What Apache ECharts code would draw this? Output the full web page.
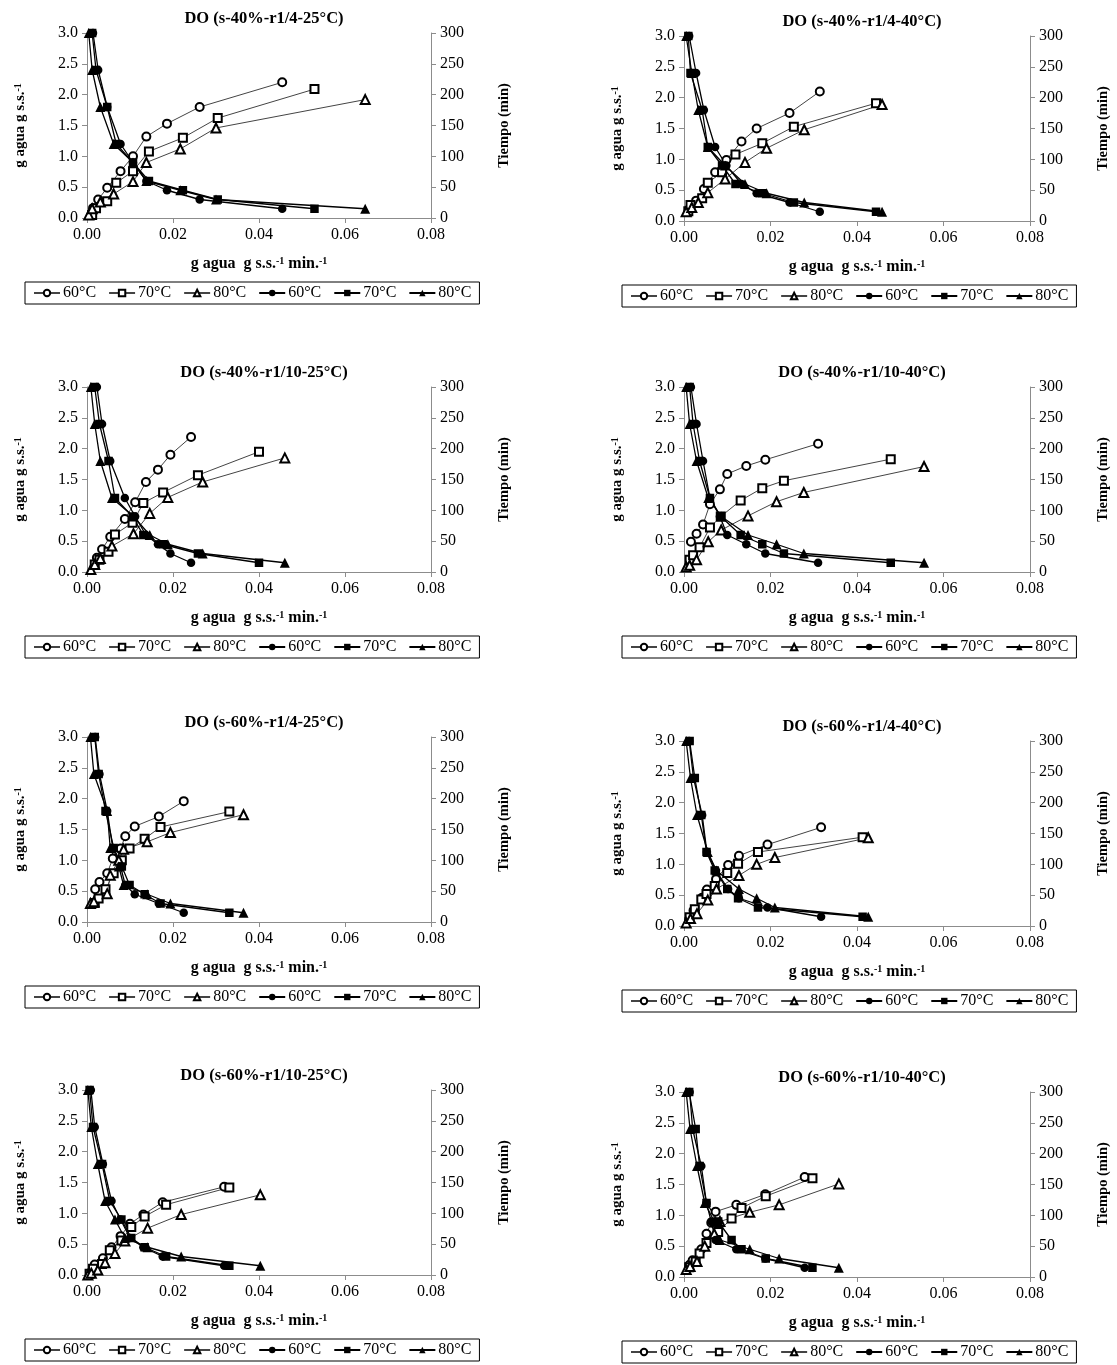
<!DOCTYPE html>
<html>
<head>
<meta charset="utf-8">
<script src="https://cdn.jsdelivr.net/npm/echarts@6/dist/echarts.min.js"></script>
<style>
  html, body { margin: 0; padding: 0; background: #fff; }
  #main { width: 1117px; height: 1365px; }
</style>
</head>
<body>
<div id="main"></div>
<script>
// sampling times (min), same for every run
var times = [300, 240, 180, 120, 90, 60, 45, 30, 15];
var temps = ['60', '70', '80'];

var titles = [
    'DO (s-40%-r1/4-25\u00b0C)', 'DO (s-40%-r1/4-40\u00b0C)',
    'DO (s-40%-r1/10-25\u00b0C)', 'DO (s-40%-r1/10-40\u00b0C)',
    'DO (s-60%-r1/4-25\u00b0C)', 'DO (s-60%-r1/4-40\u00b0C)',
    'DO (s-60%-r1/10-25\u00b0C)', 'DO (s-60%-r1/10-40\u00b0C)'
];

var rateA = [
    [0.0014, 0.0026, 0.0047, 0.0078, 0.0107, 0.0138, 0.0186, 0.0262, 0.0454],
    [0.0012, 0.0021, 0.0047, 0.0068, 0.0107, 0.0144, 0.0223, 0.0304, 0.0529],
    [0.0004, 0.0012, 0.0031, 0.0062, 0.0107, 0.0138, 0.0217, 0.0300, 0.0647]
];
var waterA = [
    [0.16, 0.30, 0.49, 0.76, 1.00, 1.32, 1.53, 1.80, 2.20],
    [0.05, 0.16, 0.27, 0.57, 0.76, 1.08, 1.30, 1.62, 2.09],
    [0.05, 0.15, 0.26, 0.39, 0.59, 0.90, 1.12, 1.46, 1.92]
];
var rateB = [
    [0.0012, 0.0028, 0.0046, 0.0072, 0.0098, 0.0133, 0.0168, 0.0244, 0.0314],
    [0.0010, 0.0015, 0.0042, 0.0055, 0.0088, 0.0119, 0.0181, 0.0254, 0.0444],
    [0.0005, 0.0018, 0.0033, 0.0055, 0.0095, 0.0141, 0.0191, 0.0278, 0.0458]
];
var waterB = [
    [0.19, 0.33, 0.52, 0.79, 0.99, 1.29, 1.50, 1.75, 2.10],
    [0.16, 0.26, 0.37, 0.62, 0.79, 1.08, 1.26, 1.53, 1.91],
    [0.15, 0.22, 0.30, 0.46, 0.68, 0.95, 1.18, 1.48, 1.89]
];
var rateC = [
    [0.0023, 0.0035, 0.0054, 0.0088, 0.0112, 0.0137, 0.0165, 0.0194, 0.0242],
    [0.0018, 0.0029, 0.0050, 0.0065, 0.0106, 0.0131, 0.0177, 0.0258, 0.0400],
    [0.0009, 0.0018, 0.0031, 0.0058, 0.0108, 0.0146, 0.0188, 0.0269, 0.0460]
];
var waterC = [
    [0.23, 0.37, 0.57, 0.86, 1.13, 1.46, 1.66, 1.90, 2.19],
    [0.12, 0.20, 0.33, 0.61, 0.80, 1.12, 1.29, 1.57, 1.95],
    [0.04, 0.12, 0.22, 0.42, 0.62, 0.95, 1.21, 1.46, 1.85]
];
var rateD = [
    [0.0016, 0.0029, 0.0044, 0.0060, 0.0083, 0.0100, 0.0144, 0.0188, 0.0310],
    [0.0013, 0.0021, 0.0036, 0.0060, 0.0085, 0.0131, 0.0181, 0.0231, 0.0478],
    [0.0005, 0.0013, 0.0029, 0.0056, 0.0086, 0.0148, 0.0214, 0.0277, 0.0555]
];
var waterD = [
    [0.49, 0.62, 0.77, 1.10, 1.34, 1.59, 1.72, 1.82, 2.08],
    [0.20, 0.27, 0.40, 0.72, 0.90, 1.16, 1.36, 1.48, 1.83],
    [0.08, 0.11, 0.20, 0.49, 0.68, 0.91, 1.14, 1.29, 1.71]
];
var rateE = [
    [0.0019, 0.0029, 0.0047, 0.0060, 0.0078, 0.0089, 0.0111, 0.0167, 0.0225],
    [0.0018, 0.0027, 0.0043, 0.0062, 0.0081, 0.0099, 0.0134, 0.0171, 0.0331],
    [0.0008, 0.0016, 0.0047, 0.0054, 0.0074, 0.0085, 0.0140, 0.0194, 0.0364]
];
var waterE = [
    [0.53, 0.65, 0.79, 1.03, 1.19, 1.39, 1.55, 1.71, 1.96],
    [0.31, 0.38, 0.53, 0.79, 1.00, 1.19, 1.35, 1.54, 1.79],
    [0.30, 0.33, 0.46, 0.76, 1.00, 1.18, 1.30, 1.45, 1.74]
];
var rateF = [
    [0.0012, 0.0022, 0.0042, 0.0053, 0.0074, 0.0102, 0.0127, 0.0193, 0.0317],
    [0.0013, 0.0025, 0.0040, 0.0052, 0.0071, 0.0100, 0.0125, 0.0171, 0.0413],
    [0.0005, 0.0015, 0.0030, 0.0055, 0.0075, 0.0127, 0.0168, 0.0210, 0.0426]
];
var waterF = [
    [0.11, 0.25, 0.46, 0.59, 0.76, 0.99, 1.14, 1.32, 1.60],
    [0.14, 0.27, 0.43, 0.52, 0.65, 0.86, 1.01, 1.20, 1.44],
    [0.05, 0.12, 0.20, 0.42, 0.60, 0.82, 1.00, 1.11, 1.43]
];
var rateG = [
    [0.0009, 0.0018, 0.0037, 0.0057, 0.0078, 0.0100, 0.0131, 0.0176, 0.0319],
    [0.0006, 0.0014, 0.0035, 0.0053, 0.0080, 0.0103, 0.0134, 0.0184, 0.0331],
    [0.0002, 0.0010, 0.0025, 0.0042, 0.0065, 0.0088, 0.0141, 0.0219, 0.0403]
];
var waterG = [
    [0.04, 0.17, 0.27, 0.45, 0.63, 0.83, 0.98, 1.18, 1.43],
    [0.02, 0.10, 0.18, 0.40, 0.56, 0.78, 0.95, 1.14, 1.42],
    [0.00, 0.03, 0.08, 0.20, 0.35, 0.55, 0.76, 0.98, 1.30]
];
var rateH = [
    [0.0013, 0.0020, 0.0040, 0.0052, 0.0063, 0.0073, 0.0121, 0.0188, 0.0279],
    [0.0012, 0.0027, 0.0036, 0.0052, 0.0079, 0.0110, 0.0133, 0.0189, 0.0297],
    [0.0005, 0.0014, 0.0030, 0.0048, 0.0070, 0.0083, 0.0152, 0.0220, 0.0358]
];
var waterH = [
    [0.20, 0.27, 0.45, 0.70, 0.88, 1.06, 1.17, 1.34, 1.62],
    [0.16, 0.25, 0.38, 0.55, 0.73, 0.95, 1.12, 1.31, 1.60],
    [0.12, 0.17, 0.25, 0.50, 0.70, 0.90, 1.05, 1.17, 1.51]
];

var rates = [rateA, rateB, rateC, rateD, rateE, rateF, rateG, rateH];
var waters = [waterA, waterB, waterC, waterD, waterE, waterF, waterG, waterH];

// layout
var FONT = 'Liberation Serif';
var colLeft = [87, 684];
var colWidth = [344, 346];
var rowTop = [[33, 36], [387, 387], [737, 741], [1090, 1092]];
var legendLeft = [25, 622];
var plotH = 185;

var openSym = ['emptyCircle', 'emptyRect', 'emptyTriangle'];
var fullSym = ['circle', 'rect', 'triangle'];

function fmt2(v) { return v.toFixed(2); }
function fmt1(v) { return v.toFixed(1); }
function legendFmt(n) { return n.slice(1) + '\u00b0C'; }

function supRich(size) {
    return {
        b: { fontSize: size, fontWeight: 'bold', fontFamily: FONT, color: '#000' },
        s: { fontSize: 10, fontWeight: 'bold', fontFamily: FONT, color: '#000', verticalAlign: 'top' }
    };
}

function buildOption() {
    var option = {
        animation: false,
        backgroundColor: '#fff',
        title: [], grid: [], xAxis: [], yAxis: [], legend: [], series: []
    };
    for (var i = 0; i < 8; i++) {
        var col = i % 2, row = Math.floor(i / 2);
        var gTop = rowTop[row][col];
        option.grid.push({ left: colLeft[col], top: gTop, width: colWidth[col], height: plotH });
        option.title.push({
            text: titles[i],
            left: colLeft[col] + colWidth[col] / 2,
            top: gTop - 28,
            textAlign: 'center',
            textStyle: { fontFamily: FONT, fontSize: 16.5, fontWeight: 'bold', color: '#000' }
        });
        option.xAxis.push({
            gridIndex: i, type: 'value', min: 0, max: 0.08, interval: 0.02,
            axisLine: { show: true, onZero: false, lineStyle: { color: '#8c8c8c' } },
            axisTick: { show: true, length: 5, lineStyle: { color: '#8c8c8c' } },
            axisLabel: { formatter: fmt2, color: '#000', fontFamily: FONT, fontSize: 16, margin: 9 },
            splitLine: { show: false },
            name: '{b|g agua  g s.s.}{s|-1}{b| min.}{s|-1}',
            nameLocation: 'middle', nameGap: 38,
            nameTextStyle: { rich: supRich(16) }
        });
        option.yAxis.push({
            gridIndex: i, type: 'value', position: 'left', min: 0, max: 3, interval: 0.5,
            axisLine: { show: true, onZero: false, lineStyle: { color: '#8c8c8c' } },
            axisTick: { show: true, length: 5, lineStyle: { color: '#8c8c8c' } },
            axisLabel: { formatter: fmt1, color: '#000', fontFamily: FONT, fontSize: 16, margin: 9 },
            splitLine: { show: false },
            name: '{b|g agua g s.s.}{s|-1}',
            nameLocation: 'middle', nameGap: 59, nameRotate: 90,
            nameTextStyle: { rich: supRich(15) }
        });
        option.yAxis.push({
            gridIndex: i, type: 'value', position: 'right', min: 0, max: 300, interval: 50,
            axisLine: { show: true, onZero: false, lineStyle: { color: '#8c8c8c' } },
            axisTick: { show: true, length: 5, lineStyle: { color: '#8c8c8c' } },
            axisLabel: { color: '#000', fontFamily: FONT, fontSize: 16, margin: 9 },
            splitLine: { show: false },
            name: 'Tiempo (min)',
            nameLocation: 'middle', nameGap: 66, nameRotate: 90,
            nameTextStyle: { fontSize: 14.5, fontWeight: 'bold', fontFamily: FONT, color: '#000' }
        });
        option.legend.push({
            left: legendLeft[col], top: gTop + plotH + 64,
            data: ['o60', 'o70', 'o80', 'f60', 'f70', 'f80'],
            formatter: legendFmt,
            itemWidth: 26, itemHeight: 8, itemGap: 12,
            padding: [3, 8],
            borderColor: '#000', borderWidth: 1,
            selectedMode: false,
            textStyle: { fontFamily: FONT, fontSize: 16, color: '#000', padding: [0, 0, 0, -2] }
        });

        for (var k = 0; k < 3; k++) {
            var r = rates[i][k], w = waters[i][k];
            var pts = [];
            for (var j = 0; j < r.length; j++) pts.push([r[j], w[j]]);
            option.series.push({
                type: 'line', name: 'o' + temps[k],
                xAxisIndex: i, yAxisIndex: 2 * i,
                data: pts,
                symbol: openSym[k], symbolSize: k === 2 ? 9 : 8,
                itemStyle: { color: '#000', borderWidth: 1 },
                lineStyle: { color: '#444', width: 1 }
            });
        }
        for (var k2 = 0; k2 < 3; k2++) {
            var r2 = rates[i][k2];
            var pts2 = [];
            for (var j2 = 0; j2 < r2.length; j2++) pts2.push([r2[j2], times[j2]]);
            option.series.push({
                type: 'line', name: 'f' + temps[k2],
                xAxisIndex: i, yAxisIndex: 2 * i + 1,
                data: pts2,
                symbol: fullSym[k2], symbolSize: k2 === 2 ? 10 : 8.5,
                itemStyle: { color: '#000' },
                lineStyle: { color: '#000', width: 1.3 }
            });
        }
    }
    return option;
}

var myChart = echarts.init(document.getElementById('main'));
myChart.setOption(buildOption());
</script>
</body>
</html>
